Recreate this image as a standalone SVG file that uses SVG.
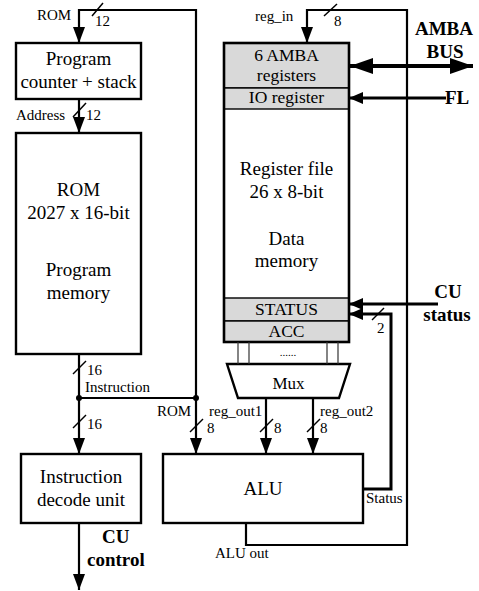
<svg xmlns="http://www.w3.org/2000/svg" width="479" height="591" viewBox="0 0 479 591">
<defs>
<style>
text{font-family:"Liberation Serif","Times New Roman",serif;fill:#000}
.big{font-size:19px;text-anchor:middle}
.reg{font-size:17.5px;text-anchor:middle}
.lbl{font-size:15px}
.bold{font-size:19px;font-weight:bold}
.box{fill:#fff;stroke:#000;stroke-width:2.4}
.gray{fill:#d9d9d9;stroke:#000;stroke-width:1.4}
.wire{fill:none;stroke:#000;stroke-width:2.2}
.thick{fill:none;stroke:#000;stroke-width:3}
.bus{fill:none;stroke:#000;stroke-width:4}
.slash{stroke:#000;stroke-width:1.5}
.thin{stroke:#333;stroke-width:1.2}
</style>
<marker id="arr" viewBox="0 0 16 12" markerWidth="16" markerHeight="12" refX="16" refY="6" orient="auto" markerUnits="userSpaceOnUse"><path d="M0,0 L16,6 L0,12 Z" fill="#000"/></marker>
<marker id="arrS" viewBox="0 0 14 12" markerWidth="14" markerHeight="12" refX="14" refY="6" orient="auto" markerUnits="userSpaceOnUse"><path d="M0,0 L14,6 L0,12 Z" fill="#000"/></marker>
<marker id="arrB" viewBox="0 0 23 16" markerWidth="23" markerHeight="16" refX="23" refY="8" orient="auto-start-reverse" markerUnits="userSpaceOnUse"><path d="M0,0 L23,8 L0,16 Z" fill="#000"/></marker>
</defs>

<g id="pc">
<rect class="box" x="16" y="43" width="125" height="56"/>
<text class="big" x="78.5" y="65">Program</text>
<text class="big" x="78.5" y="88">counter + stack</text>
</g>

<g id="rom">
<rect class="box" x="16" y="133" width="125" height="221"/>
<text class="big" x="78.5" y="196">ROM</text>
<text class="big" x="78.5" y="219">2027 x 16-bit</text>
<text class="big" x="78.5" y="276">Program</text>
<text class="big" x="78.5" y="299">memory</text>
</g>

<g id="decode">
<rect class="box" x="21" y="454" width="120" height="69"/>
<text class="big" x="81" y="483">Instruction</text>
<text class="big" x="81" y="506">decode unit</text>
</g>

<g id="regfile">
<rect x="224" y="43" width="125" height="299" fill="#fff"/>
<rect class="gray" x="224" y="43" width="125" height="45"/>
<rect class="gray" x="224" y="88" width="125" height="21"/>
<rect class="gray" x="224" y="298" width="125" height="23"/>
<rect class="gray" x="224" y="321" width="125" height="21"/>
<rect x="224" y="43" width="125" height="299" fill="none" stroke="#000" stroke-width="2.6"/>
<text class="reg" x="286.5" y="61">6 AMBA</text>
<text class="reg" x="286.5" y="81">registers</text>
<text class="reg" x="286.5" y="103">IO register</text>
<text class="big" x="286.5" y="175">Register file</text>
<text class="big" x="286.5" y="198">26 x 8-bit</text>
<text class="big" x="286.5" y="245">Data</text>
<text class="big" x="286.5" y="267">memory</text>
<text class="reg" x="286.5" y="315">STATUS</text>
<text class="reg" x="286.5" y="337">ACC</text>
</g>

<g id="mux">
<path class="box" d="M227,364 H350 L339,398 H238 Z" stroke-width="2"/>
<text x="288.5" y="389" style="font-size:17px;text-anchor:middle">Mux</text>
</g>

<g id="alu">
<rect class="box" x="163" y="454" width="200" height="69"/>
<text class="big" x="263" y="495">ALU</text>
</g>

<g id="connectors">
<path class="wire" d="M196,398 V10 H79 V43" marker-end="url(#arr)"/>
<path class="wire" d="M79,99 V133" marker-end="url(#arr)"/>
<path class="wire" d="M79,354 V454" marker-end="url(#arr)"/>
<path class="wire" d="M79,398 H196 V454" marker-end="url(#arr)"/>
<circle cx="79" cy="398" r="3"/>
<circle cx="196" cy="398" r="3"/>
<path class="wire" d="M79,523 V590" marker-end="url(#arr)"/>
<path class="wire" d="M246,523 V545 H407 V10 H307 V43" marker-end="url(#arr)"/>
<path class="thick" d="M363,489 H391 V314 H349" marker-end="url(#arrS)"/>
<path class="thick" d="M438,304 H349" marker-end="url(#arrS)"/>
<path class="thick" d="M446,98 H349" marker-end="url(#arrS)"/>
<path class="bus" d="M350,66 H473" marker-start="url(#arrB)" marker-end="url(#arrB)"/>
<path class="wire" d="M266,398 V454" marker-end="url(#arr)"/>
<path class="wire" d="M313,398 V454" marker-end="url(#arr)"/>
<line class="thin" x1="238" y1="342" x2="238" y2="364"/>
<line class="thin" x1="249" y1="342" x2="249" y2="364"/>
<line class="thin" x1="327" y1="342" x2="327" y2="364"/>
<line class="thin" x1="338" y1="342" x2="338" y2="364"/>
<line class="slash" x1="92" y1="16" x2="103" y2="3"/>
<line class="slash" x1="73" y1="117" x2="86" y2="103"/>
<line class="slash" x1="73" y1="374" x2="86" y2="361"/>
<line class="slash" x1="73" y1="428" x2="86" y2="415"/>
<line class="slash" x1="190" y1="432" x2="203" y2="419"/>
<line class="slash" x1="260" y1="432" x2="273" y2="419"/>
<line class="slash" x1="307" y1="432" x2="320" y2="419"/>
<line class="slash" x1="324" y1="16" x2="337" y2="4"/>
<line class="slash" x1="372" y1="320" x2="384" y2="308"/>
</g>

<g id="labels">
<text class="lbl" x="37" y="20">ROM</text>
<text class="lbl" x="95" y="26">12</text>
<text class="lbl" x="16" y="120">Address</text>
<text class="lbl" x="86" y="120">12</text>
<text class="lbl" x="87" y="375">16</text>
<text class="lbl" x="85" y="392">Instruction</text>
<text class="lbl" x="87" y="429">16</text>
<text class="lbl" x="157" y="416">ROM</text>
<text class="lbl" x="207" y="433">8</text>
<text class="lbl" x="209" y="416">reg_out1</text>
<text class="lbl" x="274" y="433">8</text>
<text class="lbl" x="320" y="416">reg_out2</text>
<text class="lbl" x="320" y="433">8</text>
<text class="lbl" x="255" y="21">reg_in</text>
<text class="lbl" x="334" y="26">8</text>
<text class="lbl" x="377" y="333">2</text>
<text class="lbl" x="366" y="503">Status</text>
<text class="lbl" x="215" y="558">ALU out</text>
<text x="288" y="356" style="font-size:11px;text-anchor:middle">......</text>
<text class="bold" x="444" y="35" text-anchor="middle">AMBA</text>
<text class="bold" x="445" y="58" text-anchor="middle">BUS</text>
<text class="bold" x="445" y="104">FL</text>
<text class="bold" x="448" y="298" text-anchor="middle">CU</text>
<text class="bold" x="447" y="321" text-anchor="middle">status</text>
<text class="bold" x="102" y="543">CU</text>
<text class="bold" x="87" y="566">control</text>
</g>
</svg>
